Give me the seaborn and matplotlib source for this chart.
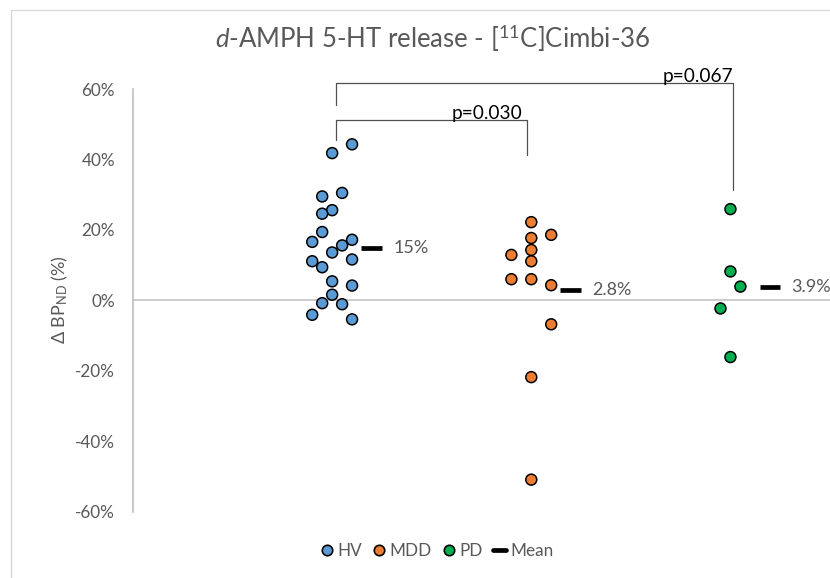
import numpy as np
import pandas as pd
import seaborn as sns
import matplotlib.pyplot as plt
from matplotlib.lines import Line2D
from matplotlib.patches import Rectangle
from matplotlib.ticker import PercentFormatter

# Change in binding potential (%) per participant
groups = ["HV", "MDD", "PD"]
hv = [44.3, 41.8, 30.5, 29.5, 25.6, 24.6, 19.4, 16.6, 17.2, 15.6, 13.6,
      11.6, 11.1, 9.4, 5.4, 4.2, 1.6, -0.8, -1.1, -4.1, -5.4]
mdd = [22.2, 18.6, 17.7, 12.9, 14.3, 11.1, 6.0, 6.0, 4.3, -6.8, -21.8, -50.9]
pd_vals = [25.9, 8.2, 3.9, -2.3, -16.1]

# horizontal slot of each dot inside its group column
hv_slot = [2, 0, 1, -1, 0, -1, -1, -2, 2, 1, 0, 2, -2, -1, 0, 2, 0, -1, 1, -2, 2]
mdd_slot = [0, 2, 0, -2, 0, 0, -2, 0, 2, 2, 0, 0]
pd_slot = [0, 0, 1, -1, 0]

# pairwise comparisons: (group a, group b, p-value text)
comparisons = [("HV", "MDD", "p=0.030"), ("HV", "PD", "p=0.067")]

colors = {"HV": "#5B9BD5", "MDD": "#ED7D31", "PD": "#00B050"}
TEXT = "#595959"

sns.set_theme(style="white")
plt.rcParams["font.family"] = ["Lato", "DejaVu Sans"]
plt.rcParams["mathtext.fontset"] = "custom"
plt.rcParams["mathtext.rm"] = "Lato"
plt.rcParams["mathtext.it"] = "Lato:italic"
plt.rcParams["axes.unicode_minus"] = False

values = {"HV": hv, "MDD": mdd, "PD": pd_vals}
slots = {"HV": hv_slot, "MDD": mdd_slot, "PD": pd_slot}
pos = {g: i + 1 for i, g in enumerate(groups)}
step = 0.05

rows = []
for g in groups:
    for v, s in zip(values[g], slots[g]):
        rows.append({"group": g, "value": v, "x": pos[g] + s * step})
df = pd.DataFrame(rows)

fig = plt.figure(figsize=(8.3, 5.78), dpi=100)
ax = fig.add_axes([133 / 830, (578 - 511.7) / 578, 697 / 830, 422.7 / 578])

# zero reference line
ax.axhline(0, color="#C8C8C8", lw=1.3, zorder=1)

sns.scatterplot(data=df, x="x", y="value", hue="group", palette=colors,
                s=62, edgecolor="black", linewidth=1.1, legend=False,
                zorder=3, ax=ax)

# group means
for g in groups:
    m = np.mean(values[g])
    x0 = pos[g]
    ax.hlines(m, x0 + 0.146, x0 + 0.251, color="black", lw=3.4, zorder=3)
    ax.text(x0 + 0.307, m, f"{m:.2g}%", ha="left", va="center",
            fontsize=13, color=TEXT)

# significance brackets
bracket_style = dict(color="#505050", lw=0.9, clip_on=False, zorder=2)
top = {"HV-MDD": (51.1, 45.5, 41.2), "HV-PD": (61.6, 55.4, 31.3)}
for a, b, label in comparisons:
    yh, ya, yb = top[f"{a}-{b}"]
    xa = pos[a] + 0.02
    xb = pos[b] - 0.02 if b == "MDD" else pos[b] + 0.015
    ax.plot([xa, xa, xb, xb], [ya, yh, yh, yb], **bracket_style)
    xt = xb - 0.2 if b == "MDD" else xb - 0.18
    ax.text(xt, yh - 0.6, label, ha="center", va="bottom", fontsize=13.8,
            color="black")

ax.set_xlim(0, 3.5)
ax.set_ylim(-60, 60)
ax.set_yticks(np.arange(-60, 61, 20))
ax.yaxis.set_major_formatter(PercentFormatter(xmax=100, decimals=0))
ax.tick_params(axis="y", length=0, pad=13, labelsize=12.3, labelcolor=TEXT)
ax.set_xticks([])
ax.set_xlabel("")
ax.set_ylabel("")
for side in ["top", "right", "bottom"]:
    ax.spines[side].set_visible(False)
ax.spines["left"].set_color("#BFBFBF")
ax.spines["left"].set_linewidth(1.2)

fig.text(60 / 830, 1 - 300 / 578, "Δ BP$_{\\mathrm{ND}}$ (%)", rotation=90,
         ha="center", va="center", fontsize=13, color=TEXT)
fig.text(433 / 830, 1 - 38 / 578,
         "$\\mathit{d}$-AMPH 5-HT release - [$^{11}$C]Cimbi-36",
         ha="center", va="center", fontsize=18.5, color=TEXT)

handles = [Line2D([], [], marker="o", ls="", markerfacecolor=colors[g],
                  markeredgecolor="black", markeredgewidth=1.2, markersize=7.5)
           for g in groups]
handles.append(Line2D([], [], color="black", lw=3.4))
fig.legend(handles, groups + ["Mean"], loc="center",
           bbox_to_anchor=(437 / 830, 1 - 551 / 578), ncol=4, frameon=False,
           fontsize=12.3, handlelength=0.75, handletextpad=0.25,
           columnspacing=0.6, labelcolor=TEXT)

# outer chart frame
fig.add_artist(Rectangle((11 / 830, -0.5), 2, 1 - 10 / 578 + 0.5,
                         transform=fig.transFigure, fill=False,
                         edgecolor="#D9D9D9", lw=1))

fig.savefig("out.png", dpi=100)
